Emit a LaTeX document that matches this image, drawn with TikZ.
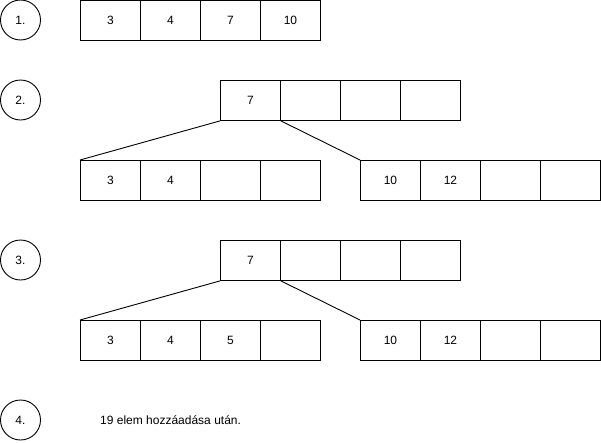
\documentclass[tikz,border=0pt]{standalone}
\usepackage{fontspec}
\setmainfont{Liberation Sans}
\begin{document}
\begin{tikzpicture}[x=1pt,y=-1pt,
  every node/.style={font=\fontsize{12}{14}\selectfont},
  cell/.style={draw,line width=0.9pt,minimum width=60pt,minimum height=40pt,inner sep=0pt,anchor=north west},
  stepcirc/.style={draw,circle,line width=0.9pt,minimum size=40pt,inner sep=0pt},
  link/.style={line width=0.9pt}]
\useasboundingbox (0,0) rectangle (601,442);
% labels
\node[stepcirc] (c1) at (20.5,20) {1.};
\node[stepcirc] (c2) at (20.5,100) {2.};
\node[stepcirc] (c3) at (20.5,260) {3.};
\node[stepcirc] (c4) at (20.5,420) {4.};
% row 1
\node[cell] (r1a) at (80,0) {3};
\node[cell] (r1b) at (140,0) {4};
\node[cell] (r1c) at (200,0) {7};
\node[cell] (r1d) at (260,0) {10};
% row 2
\node[cell] (t2a) at (220,80) {7};
\node[cell] (t2b) at (280,80) {};
\node[cell] (t2c) at (340,80) {};
\node[cell] (t2d) at (400,80) {};
\node[cell] (l2a) at (80,160) {3};
\node[cell] (l2b) at (140,160) {4};
\node[cell] (l2c) at (200,160) {};
\node[cell] (l2d) at (260,160) {};
\node[cell] (m2a) at (360,160) {10};
\node[cell] (m2b) at (420,160) {12};
\node[cell] (m2c) at (480,160) {};
\node[cell] (m2d) at (540,160) {};
\draw[link] (t2a.south west) -- (l2a.north west);
\draw[link] (t2a.south east) -- (m2a.north west);
% row 3
\node[cell] (t3a) at (220,240) {7};
\node[cell] (t3b) at (280,240) {};
\node[cell] (t3c) at (340,240) {};
\node[cell] (t3d) at (400,240) {};
\node[cell] (l3a) at (80,320) {3};
\node[cell] (l3b) at (140,320) {4};
\node[cell] (l3c) at (200,320) {5};
\node[cell] (l3d) at (260,320) {};
\node[cell] (m3a) at (360,320) {10};
\node[cell] (m3b) at (420,320) {12};
\node[cell] (m3c) at (480,320) {};
\node[cell] (m3d) at (540,320) {};
\draw[link] (t3a.south west) -- (l3a.north west);
\draw[link] (t3a.south east) -- (m3a.north west);
% row 4
\node[anchor=west,inner sep=0pt] (txt) at (100,420) {19 elem hozzáadása után.};
\end{tikzpicture}
\end{document}
